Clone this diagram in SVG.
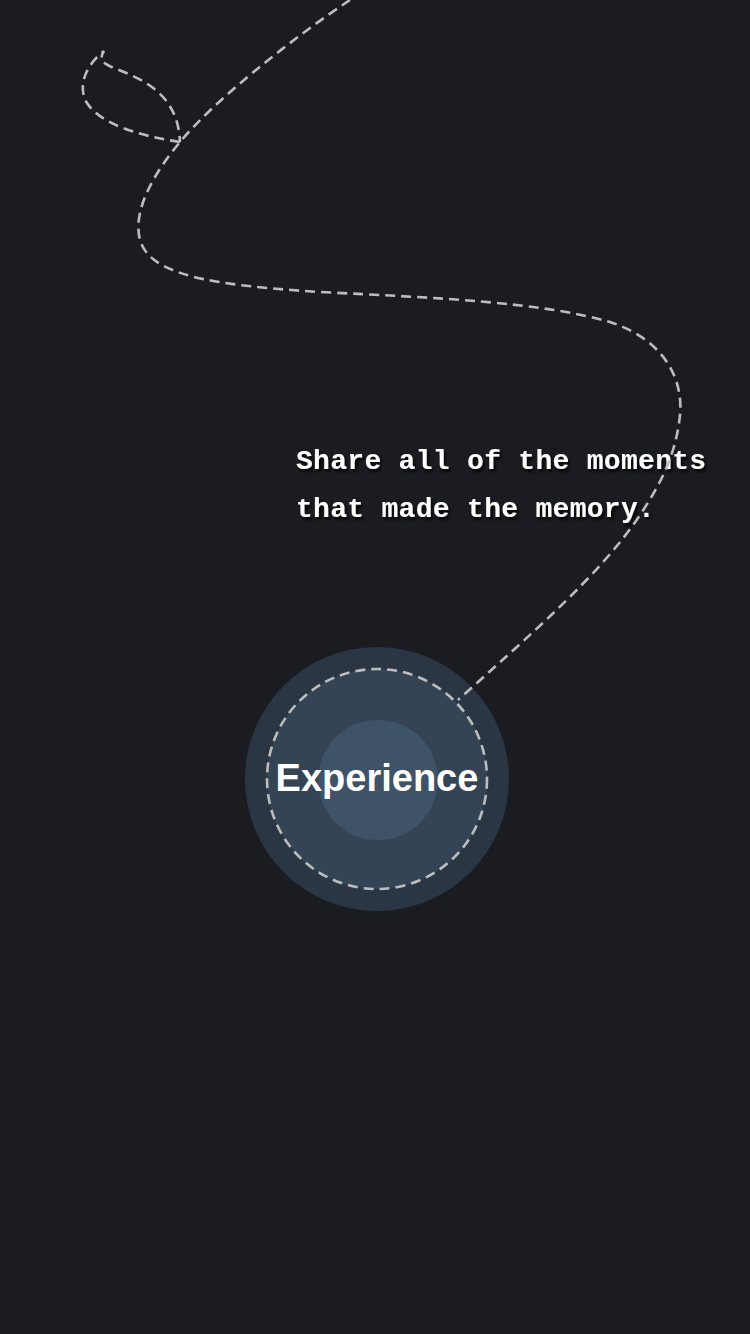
<svg xmlns="http://www.w3.org/2000/svg" width="750" height="1334" viewBox="0 0 750 1334">
  <defs>
    <style>
      .dash { fill: none; stroke: #bdbdbd; stroke-width: 2.6; stroke-dasharray: 10 6; }
      .caption { font-family: "Liberation Mono", "DejaVu Sans Mono", monospace; font-size: 28px; font-weight: bold; letter-spacing: 0.3px; fill: #ffffff; filter: url(#shadow); }
      .label { font-family: "Liberation Sans", Arial, sans-serif; font-size: 38px; font-weight: bold; fill: #ffffff; }
    </style>
    <filter id="shadow" x="-10%" y="-30%" width="120%" height="160%">
      <feDropShadow dx="2" dy="3" stdDeviation="1.5" flood-color="#000000" flood-opacity="0.8"/>
    </filter>
  </defs>
  <rect x="0" y="0" width="750" height="1334" fill="#1b1c21"/>

  <g id="caption">
    <text class="caption" x="296" y="469">Share all of the moments</text>
    <text class="caption" x="296" y="517">that made the memory.</text>
  </g>

  <g id="experience">
    <circle cx="377" cy="779" r="132" fill="#2b3644"/>
    <circle cx="377" cy="779" r="110" fill="#344455"/>
    <circle cx="378" cy="780" r="60" fill="#3e5268"/>
    <circle class="dash" cx="377" cy="779" r="110"/>
    <text class="label" x="377" y="791" text-anchor="middle">Experience</text>
  </g>

  <g id="connectors">
    <path class="dash" d="M350,0 C290,40 215,100 180,142 C155,172 132,210 140,240 C150,275 210,285 320,292 C440,298 540,302 610,322 C670,342 683,385 680,415 C676,455 660,485 640,515 C600,575 530,635 458,700"/>
    <path class="dash" d="M180,142 C140,136 100,124 87,103 C76,85 88,63 104,51 C98,60 104,64 114,68 C145,80 178,95 180,142"/>
  </g>
</svg>
